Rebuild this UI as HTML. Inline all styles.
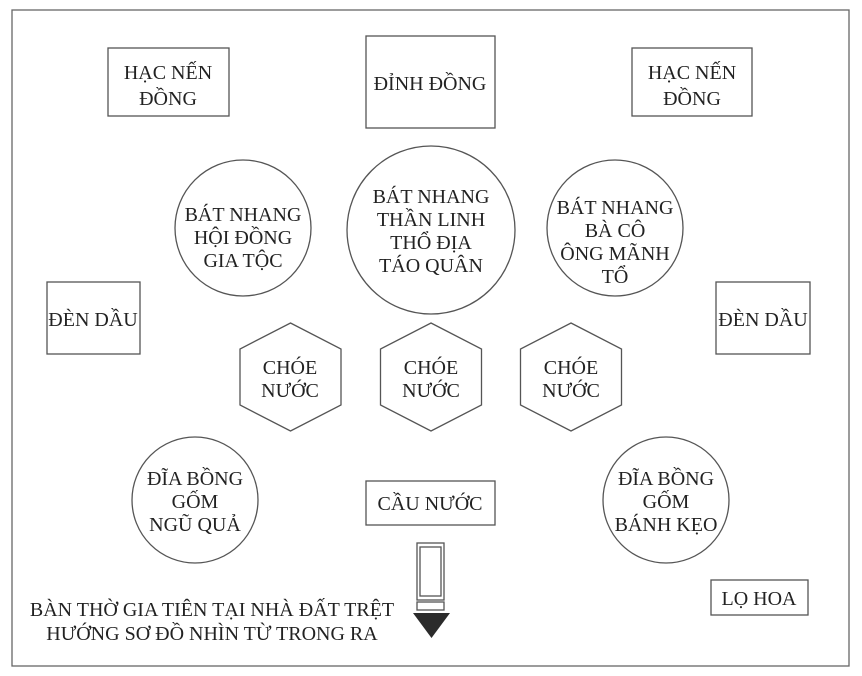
<!DOCTYPE html>
<html><head><meta charset="utf-8"><style>
html,body{margin:0;padding:0;background:#fff;}
svg{display:block;}
text{font-family:"Liberation Serif",serif;font-size:20px;fill:#222;text-anchor:middle;}
</style></head><body>
<svg width="862" height="676" viewBox="0 0 862 676">
<g fill="none" stroke="#555" stroke-width="1.3">
<rect x="12" y="10" width="837" height="656" stroke="#666"/>
<rect x="108" y="48" width="121" height="68"/>
<rect x="366" y="36" width="129" height="92"/>
<rect x="632" y="48" width="120" height="68"/>
<circle cx="243" cy="228" r="68"/>
<circle cx="431" cy="230" r="84"/>
<circle cx="615" cy="228" r="68"/>
<rect x="47" y="282" width="93" height="72"/>
<rect x="716" y="282" width="94" height="72"/>
<polygon points="290.5,323 341,349 341,405 290.5,431 240,405 240,349"/>
<polygon points="431,323 481.5,349 481.5,405 431,431 380.5,405 380.5,349"/>
<polygon points="571,323 621.5,349 621.5,405 571,431 520.5,405 520.5,349"/>
<circle cx="195" cy="500" r="63"/>
<circle cx="666" cy="500" r="63"/>
<rect x="366" y="481" width="129" height="44"/>
<rect x="711" y="580" width="97" height="35"/>
<rect x="417" y="543" width="27" height="57"/>
<rect x="420" y="547" width="21" height="49"/>
<rect x="417" y="602" width="27" height="8"/>
</g>
<polygon points="413,613 450,613 431.5,638" fill="#2b2b2b"/>
<text x="168" y="79">HẠC NẾN</text><text x="168" y="105">ĐỒNG</text>
<text x="430" y="90">ĐỈNH ĐỒNG</text>
<text x="692" y="79">HẠC NẾN</text><text x="692" y="105">ĐỒNG</text>
<text x="243" y="221">BÁT NHANG</text><text x="243" y="244">HỘI ĐỒNG</text><text x="243" y="267">GIA TỘC</text>
<text x="431" y="203">BÁT NHANG</text><text x="431" y="226">THẦN LINH</text><text x="431" y="249">THỔ ĐỊA</text><text x="431" y="272">TÁO QUÂN</text>
<text x="615" y="214">BÁT NHANG</text><text x="615" y="237">BÀ CÔ</text><text x="615" y="260">ÔNG MÃNH</text><text x="615" y="283">TỔ</text>
<text x="93" y="326">ĐÈN DẦU</text>
<text x="763" y="326">ĐÈN DẦU</text>
<text x="290" y="374">CHÓE</text><text x="290" y="397">NƯỚC</text>
<text x="431" y="374">CHÓE</text><text x="431" y="397">NƯỚC</text>
<text x="571" y="374">CHÓE</text><text x="571" y="397">NƯỚC</text>
<text x="195" y="485">ĐĨA BỒNG</text><text x="195" y="508">GỐM</text><text x="195" y="531">NGŨ QUẢ</text>
<text x="666" y="485">ĐĨA BỒNG</text><text x="666" y="508">GỐM</text><text x="666" y="531">BÁNH KẸO</text>
<text x="430" y="510">CẦU NƯỚC</text>
<text x="759" y="605">LỌ HOA</text>
<text x="212" y="616">BÀN THỜ GIA TIÊN TẠI NHÀ ĐẤT TRỆT</text>
<text x="212" y="640">HƯỚNG SƠ ĐỒ NHÌN TỪ TRONG RA</text>
</svg>
</body></html>
